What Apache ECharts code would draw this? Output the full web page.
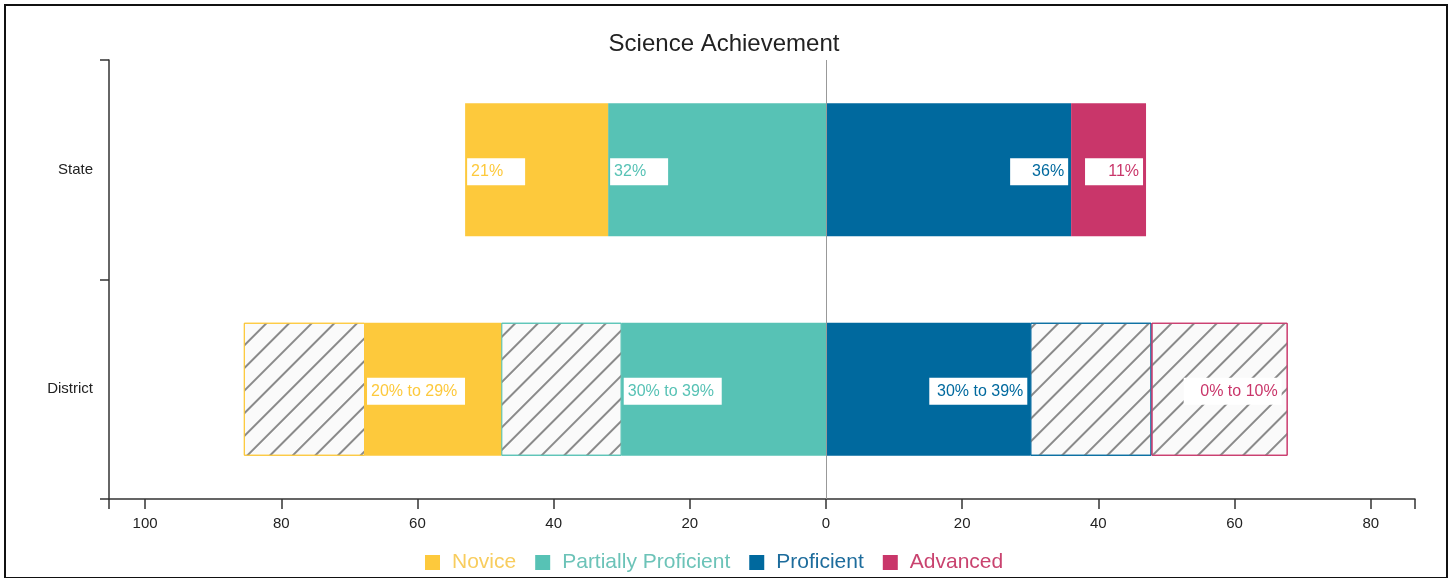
<!DOCTYPE html>
<html>
<head>
<meta charset="utf-8">
<title>Science Achievement</title>
<script src="https://cdn.jsdelivr.net/npm/echarts@6/dist/echarts.min.js"></script>
<style>
    html, body { margin: 0; padding: 0; background: #fff; }
    #wrap { position: relative; width: 1448px; height: 578px; }
    #chart { width: 1448px; height: 578px; }
    #frame { position: absolute; left: 4px; top: 4px; width: 1440px; height: 571px; border: 2px solid #111; pointer-events: none; }
</style>
</head>
<body>
<div id="wrap">
    <div id="chart"></div>
    <div id="frame"></div>
</div>
<script>
    // data
    var categories = ['State', 'District'];
    var xTicks = [-100, -80, -60, -40, -20, 0, 20, 40, 60, 80];

    var noviceSolid = [21, 20];
    var noviceRange = [0, 17.8];
    var partialSolid = [32, 30];
    var partialRange = [0, 17.7];
    var profSolid = [36, 30];
    var profRange = [0, 17.8];
    var advSolid = [11, 0];
    var advRange = [0, 20];

    var noviceLabels = ['21%', '20% to 29%'];
    var partialLabels = ['32%', '30% to 39%'];
    var profLabels = ['36%', '30% to 39%'];
    var advSolidLabels = ['11%', ''];
    var advRangeLabels = ['', '0% to 10%'];

    var colors = {
        novice: '#fdc93c',
        partial: '#57c2b5',
        prof: '#00699e',
        adv: '#c9366a'
    };
    var font = "'Liberation Sans', Arial, sans-serif";
    var xMin = -105.3, xMax = 86.5;

    // 0 -> no bar; left side is drawn negative
    function toData(values, sign, labels, pos, dist) {
        return values.map(function(v, i) {
            var item = { value: v === 0 ? '-' : v * sign };
            var txt = labels ? labels[i] : '';
            if (txt) {
                item.label = {
                    show: true,
                    position: pos,
                    distance: dist,
                    formatter: txt,
                    width: i === 0 ? 50 : 90
                };
            }
            return item;
        });
    }

    function solid(name, color, values, sign, labels, pos, dist) {
        return {
            name: name,
            type: 'bar',
            stack: 'total',
            barWidth: 133,
            itemStyle: { color: color },
            label: {
                show: false,
                color: color,
                backgroundColor: '#fff',
                padding: [4, 4],
                offset: [0, 2],
                fontSize: 16,
                lineHeight: 19,
                fontFamily: font
            },
            data: toData(values, sign, labels, pos, dist)
        };
    }

    function hatch(name, color, values, sign, labels, pos, dist) {
        var s = solid(name, color, values, sign, labels, pos, dist);
        s.itemStyle = {
            color: '#fafafa',
            borderColor: color,
            borderWidth: 1,
            decal: {
                symbol: 'rect',
                symbolSize: 1,
                color: '#8a8a8a',
                dashArrayX: [1, 0],
                dashArrayY: [1.2, 14],
                rotation: -Math.PI / 4
            }
        };
        return s;
    }

    var series = [
        solid('Partially Proficient', colors.partial, partialSolid, -1, partialLabels, 'insideLeft', 2),
        hatch('Partially range', colors.partial, partialRange, -1),
        solid('Novice', colors.novice, noviceSolid, -1, noviceLabels, 'insideLeft', 2),
        hatch('Novice range', colors.novice, noviceRange, -1),
        solid('Proficient', colors.prof, profSolid, 1, profLabels, 'insideRight', 3),
        hatch('Proficient range', colors.prof, profRange, 1),
        solid('Advanced', colors.adv, advSolid, 1, advSolidLabels, 'insideRight', 3),
        hatch('Advanced range', colors.adv, advRange, 1, advRangeLabels, 'insideRight', 6)
    ];
    // zero line
    series[4].markLine = {
        silent: true,
        symbol: 'none',
        label: { show: false },
        lineStyle: { color: '#999', width: 1, type: 'solid' },
        data: [{ xAxis: 0 }]
    };

    var chart = echarts.init(document.getElementById('chart'));
    chart.setOption({
        animation: false,
        title: {
            text: 'Science Achievement',
            left: 'center',
            top: 27,
            textStyle: { fontSize: 24, fontWeight: 'normal', color: '#222', fontFamily: font }
        },
        legend: {
            left: 420,
            top: 547,
            icon: 'rect',
            itemWidth: 15,
            itemHeight: 15,
            itemGap: 19,
            textStyle: { fontSize: 21, fontFamily: font, padding: [0, 0, 0, 7] },
            data: [
                { name: 'Novice', textStyle: { color: '#f8cd5e' } },
                { name: 'Partially Proficient', textStyle: { color: '#6cc3b8' } },
                { name: 'Proficient', textStyle: { color: '#1d6c9c' } },
                { name: 'Advanced', textStyle: { color: '#c9436f' } }
            ]
        },
        grid: { left: 109, right: 33, top: 60, bottom: 79 },
        xAxis: {
            type: 'value',
            min: xMin,
            max: xMax,
            axisLine: { show: true, lineStyle: { color: '#333', width: 1.5 } },
            axisTick: {
                show: true,
                length: 10,
                lineStyle: { color: '#333', width: 1.5 },
                customValues: [xMin].concat(xTicks, [xMax])
            },
            axisLabel: {
                customValues: xTicks,
                margin: 17,
                color: '#222',
                fontSize: 15,
                fontFamily: font,
                formatter: function(v) { return Math.abs(v); }
            },
            splitLine: { show: false }
        },
        yAxis: {
            type: 'category',
            inverse: true,
            data: categories,
            axisLine: { show: true, onZero: false, lineStyle: { color: '#333', width: 1.5 } },
            axisTick: { show: true, length: 9, lineStyle: { color: '#333', width: 1.5 } },
            axisLabel: { margin: 16, color: '#222', fontSize: 15, fontFamily: font }
        },
        series: series
    });
</script>
</body>
</html>
